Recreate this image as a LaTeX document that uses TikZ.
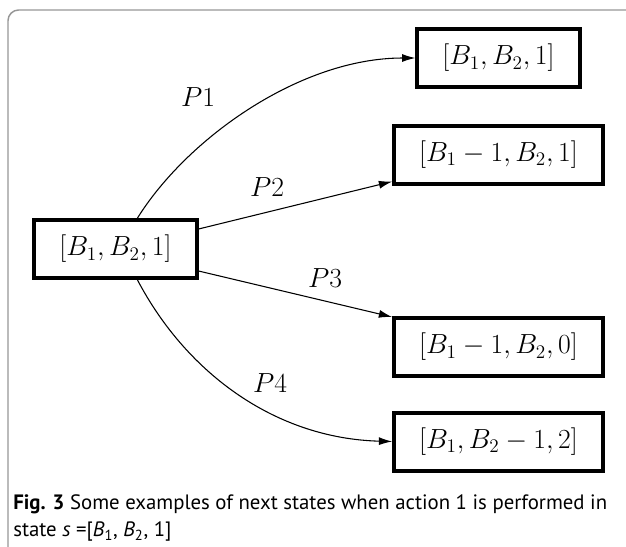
\documentclass[tikz,border=0pt]{standalone}
\usepackage{fontspec}
\usepackage{amsmath}
\usetikzlibrary{arrows.meta,calc}
\newfontfamily\capfont{PT Sans}
\definecolor{framegray}{RGB}{150,150,150}

\tikzset{
  statebox/.style={draw, line width=3pt, inner xsep=18.8pt, minimum height=43.5pt, font=\fontsize{22}{26}\selectfont},
  problabel/.style={inner sep=0pt, font=\fontsize{22}{26}\selectfont},
  trans/.style={line width=0.8pt, -{Latex[length=10pt,width=6pt]}},
}

\begin{document}
\begin{tikzpicture}[x=0.75pt,y=0.75pt,yscale=-1,xscale=1]
\useasboundingbox (0,0) rectangle (626,547);

%Shape: Frame
\draw [color=framegray, line width=1.1pt, rounded corners=8] (8,570) -- (8,10) -- (650,10);

% State Nodes
\node [statebox] (src) at (115.5,249) {$[B_1,B_2,1]$};
\node [statebox] (nxtA) at (498.5,58) {$[B_1,B_2,1]$};
\node [statebox] (nxtB) at (498.5,154.5) {$[B_1-1,B_2,1]$};
\node [statebox] (nxtC) at (498.5,347) {$[B_1-1,B_2,0]$};
\node [statebox] (nxtD) at (498.5,441.5) {$[B_1,B_2-1,2]$};

% Transitions
\draw [trans] ($(src.north)+(22,0)$) .. controls +(50,-80) and +(-115,0) .. (nxtA.west);
\draw [trans] ($(src.north east)+(0,11)$) -- ($(nxtB.south west)+(0,-4)$);
\draw [trans] ($(src.south east)+(0,-9)$) -- ($(nxtC.north west)+(0,1)$);
\draw [trans] ($(src.south)+(22,0)$) .. controls +(50,95) and +(-115,-3) .. (nxtD.west);

% Probability Labels
\node [problabel] (p1) at (198,97) {$P1$};
\node [problabel] (p2) at (267,187) {$P2$};
\node [problabel] (p3) at (325,278) {$P3$};
\node [problabel] (p4) at (270,383) {$P4$};

% Caption
\node [anchor=north west, inner sep=0pt, align=left, font=\capfont\fontsize{15.6}{20.5}\selectfont] (cap) at (13,494)
  {\textbf{Fig. 3} Some examples of next states when action 1 is performed in\\
   state {\itshape s} =[{\itshape B}\textsubscript{1}, {\itshape B}\textsubscript{2}, 1]};

\end{tikzpicture}
\end{document}
